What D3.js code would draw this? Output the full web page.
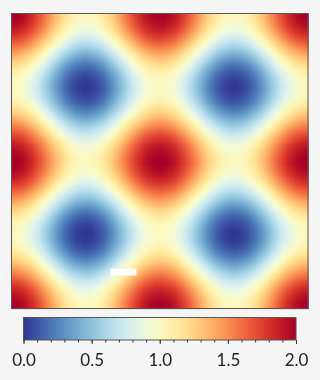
<!DOCTYPE html>
<html>
<head>
<meta charset="utf-8">
<script src="https://cdn.jsdelivr.net/npm/d3@7"></script>
<style>
  html, body { margin: 0; padding: 0; background: #f5f5f5; }
  #wrap { position: relative; width: 320px; height: 380px; }
  canvas, svg { position: absolute; left: 0; top: 0; }
</style>
</head>
<body>
<div id="wrap"></div>
<script>
// ---- data ----
const nx = 297, ny = 296;
const xDomain = [-2 * Math.PI, 2 * Math.PI];
const yDomain = [-2 * Math.PI, 2 * Math.PI];
const xValues = d3.range(nx).map(i => xDomain[0] + (i + 0.5) * (xDomain[1] - xDomain[0]) / nx);
const yValues = d3.range(ny).map(j => yDomain[1] - (j + 0.5) * (yDomain[1] - yDomain[0]) / ny);
const nanRegion = { x0: -2.1, x1: -1.0, y0: -4.9, y1: -4.57 };
const zValues = yValues.map(y => xValues.map(x =>
  (x >= nanRegion.x0 && x <= nanRegion.x1 && y >= nanRegion.y0 && y <= nanRegion.y1)
    ? NaN : 1 + 0.5 * (Math.cos(x) + Math.cos(y))));
const colorDomain = [0, 2];
const majorTicks = [0, 0.5, 1.0, 1.5, 2.0];
const minorTicks = d3.range(0, 2.0001, 0.1);

// ---- layout ----
const W = 320, H = 380;
const plot = { x: 11.5, y: 13.5, w: 296.5, h: 295 };
const cbar = { x: 23.5, y: 317.5, w: 272.5, h: 22.5 };

const color = d3.scaleSequential(t => d3.interpolateRdYlBu(1 - t)).domain(colorDomain);
const xs = d3.scaleBand().domain(d3.range(nx)).range([plot.x, plot.x + plot.w]);
const ys = d3.scaleBand().domain(d3.range(ny)).range([plot.y, plot.y + plot.h]);

const wrap = d3.select('#wrap');
const canvas = wrap.append('canvas').attr('width', W).attr('height', H);
const ctx = canvas.node().getContext('2d');
zValues.forEach((row, j) => row.forEach((v, i) => {
  ctx.fillStyle = isNaN(v) ? '#ffffff' : color(v);
  const x0 = xs(i), y0 = ys(j);
  ctx.fillRect(x0, y0, xs.bandwidth() + 0.6, ys.bandwidth() + 0.6);
}));

const svg = wrap.append('svg').attr('width', W).attr('height', H);
svg.append('rect')
  .attr('x', plot.x).attr('y', plot.y).attr('width', plot.w).attr('height', plot.h)
  .attr('fill', 'none').attr('stroke', '#555').attr('stroke-width', 1);

// colorbar
const grad = svg.append('defs').append('linearGradient').attr('id', 'cg')
  .attr('x1', '0%').attr('x2', '100%').attr('y1', '0%').attr('y2', '0%');
d3.range(0, 1.0001, 0.05).forEach(t => {
  grad.append('stop').attr('offset', (t * 100) + '%')
    .attr('stop-color', color(colorDomain[0] + t * (colorDomain[1] - colorDomain[0])));
});
svg.append('rect')
  .attr('x', cbar.x).attr('y', cbar.y).attr('width', cbar.w).attr('height', cbar.h)
  .attr('fill', 'url(#cg)').attr('stroke', '#555').attr('stroke-width', 1);

const cx = d3.scaleLinear().domain(colorDomain).range([cbar.x, cbar.x + cbar.w]);
const minorAxis = svg.append('g').attr('transform', `translate(0,${cbar.y + cbar.h})`)
  .call(d3.axisBottom(cx).tickValues(minorTicks).tickSize(2.5).tickFormat(''));
minorAxis.select('.domain').remove();
minorAxis.selectAll('line').attr('stroke', '#333');
const majorAxis = svg.append('g').attr('transform', `translate(0,${cbar.y + cbar.h})`)
  .call(d3.axisBottom(cx).tickValues(majorTicks).tickSize(4).tickPadding(10).tickFormat(d3.format('.1f')));
majorAxis.select('.domain').remove();
majorAxis.selectAll('line').attr('stroke', '#333');
majorAxis.selectAll('text').attr('font-family', 'Lato, sans-serif').attr('font-size', 17).attr('fill', '#222');
</script>
</body>
</html>
